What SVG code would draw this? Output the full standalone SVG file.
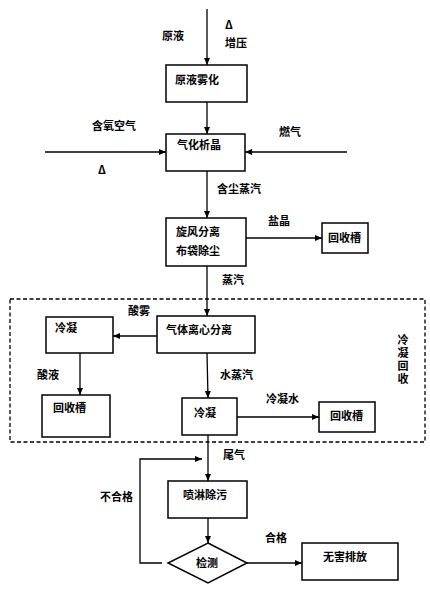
<svg xmlns="http://www.w3.org/2000/svg" width="430" height="591" viewBox="0 0 430 591">
<style>
.b{fill:#fff;stroke:#000;stroke-width:1.5}
.l{fill:none;stroke:#000;stroke-width:1.3}
.t{font-family:"Noto Sans CJK SC","Liberation Sans",sans-serif;font-size:11px;font-weight:bold;fill:#000}
.v{writing-mode:vertical-rl;letter-spacing:2px}
</style>
<defs>
<marker id="a" markerWidth="8" markerHeight="8" refX="7" refY="4" orient="auto" markerUnits="userSpaceOnUse">
<path d="M0,1 L7,4 L0,7 Z" fill="#000"/>
</marker>
</defs>
<rect x="10" y="299" width="415" height="143" fill="none" stroke="#000" stroke-width="1.3" stroke-dasharray="4,2.5"/>
<text class="t v" x="403" y="334">冷凝回收</text>
<g id="connectors">
<line class="l" x1="207" y1="9" x2="207" y2="65" marker-end="url(#a)"/>
<line class="l" x1="207" y1="102" x2="207" y2="134" marker-end="url(#a)"/>
<line class="l" x1="45" y1="152" x2="166" y2="152" marker-end="url(#a)"/>
<line class="l" x1="347" y1="152" x2="245" y2="152" marker-end="url(#a)"/>
<line class="l" x1="207" y1="171" x2="207" y2="218" marker-end="url(#a)"/>
<line class="l" x1="246" y1="238" x2="322" y2="238" marker-end="url(#a)"/>
<line class="l" x1="207" y1="266" x2="207" y2="316" marker-end="url(#a)"/>
<line class="l" x1="157" y1="336" x2="113" y2="336" marker-end="url(#a)"/>
<line class="l" x1="80" y1="353" x2="80" y2="395" marker-end="url(#a)"/>
<line class="l" x1="207" y1="353" x2="208" y2="398" marker-end="url(#a)"/>
<line class="l" x1="237" y1="417" x2="319" y2="417" marker-end="url(#a)"/>
<line class="l" x1="208" y1="435" x2="208" y2="481" marker-end="url(#a)"/>
<polyline class="l" points="162,563 140,563 140,459 202,459" marker-end="url(#a)"/>
<line class="l" x1="208" y1="518" x2="208" y2="543" marker-end="url(#a)"/>
<line class="l" x1="247" y1="563" x2="302" y2="563" marker-end="url(#a)"/>
</g>
<g id="labels">
<text class="t" x="162" y="40">原液</text>
<text class="t" x="225" y="29">Δ</text>
<text class="t" x="225" y="47">增压</text>
<text class="t" x="92" y="130">含氧空气</text>
<text class="t" x="279" y="136">燃气</text>
<text class="t" x="98" y="174">Δ</text>
<text class="t" x="217" y="193">含尘蒸汽</text>
<text class="t" x="268" y="225">盐晶</text>
<text class="t" x="222" y="284">蒸汽</text>
<text class="t" x="128" y="315">酸雾</text>
<text class="t" x="37" y="379">酸液</text>
<text class="t" x="220" y="379">水蒸汽</text>
<text class="t" x="266" y="403">冷凝水</text>
<text class="t" x="223" y="459">尾气</text>
<text class="t" x="100" y="501">不合格</text>
<text class="t" x="265" y="542">合格</text>
</g>
<g id="n1"><rect class="b" x="166" y="65" width="81" height="37"/><text class="t" x="175" y="84">原液雾化</text></g>
<g id="n2"><rect class="b" x="166" y="134" width="79" height="37"/><text class="t" x="177" y="149">气化析晶</text></g>
<g id="n3"><rect class="b" x="166" y="218" width="80" height="48"/><text class="t" x="176" y="236">旋风分离</text><text class="t" x="176" y="255">布袋除尘</text></g>
<g id="n4"><rect class="b" x="322" y="223" width="46" height="30"/><text class="t" x="328" y="242">回收槽</text></g>
<g id="n5"><rect class="b" x="157" y="316" width="98" height="37"/><text class="t" x="166" y="334">气体离心分离</text></g>
<g id="n6"><rect class="b" x="46" y="317" width="67" height="36"/><text class="t" x="55" y="332">冷凝</text></g>
<g id="n7"><rect class="b" x="42" y="395" width="68" height="42"/><text class="t" x="53" y="412">回收槽</text></g>
<g id="n8"><rect class="b" x="182" y="398" width="55" height="37"/><text class="t" x="194" y="417">冷凝</text></g>
<g id="n9"><rect class="b" x="319" y="402" width="56" height="30"/><text class="t" x="330" y="420">回收槽</text></g>
<g id="n10"><rect class="b" x="168" y="481" width="79" height="37"/><text class="t" x="183" y="499">喷淋除污</text></g>
<g id="n11"><polygon class="b" points="208,543 247,563 208,583 168,563"/><text class="t" x="207" y="567" text-anchor="middle">检测</text></g>
<g id="n12"><rect class="b" x="302" y="543" width="96" height="37"/><text class="t" x="323" y="561">无害排放</text></g>
</svg>
